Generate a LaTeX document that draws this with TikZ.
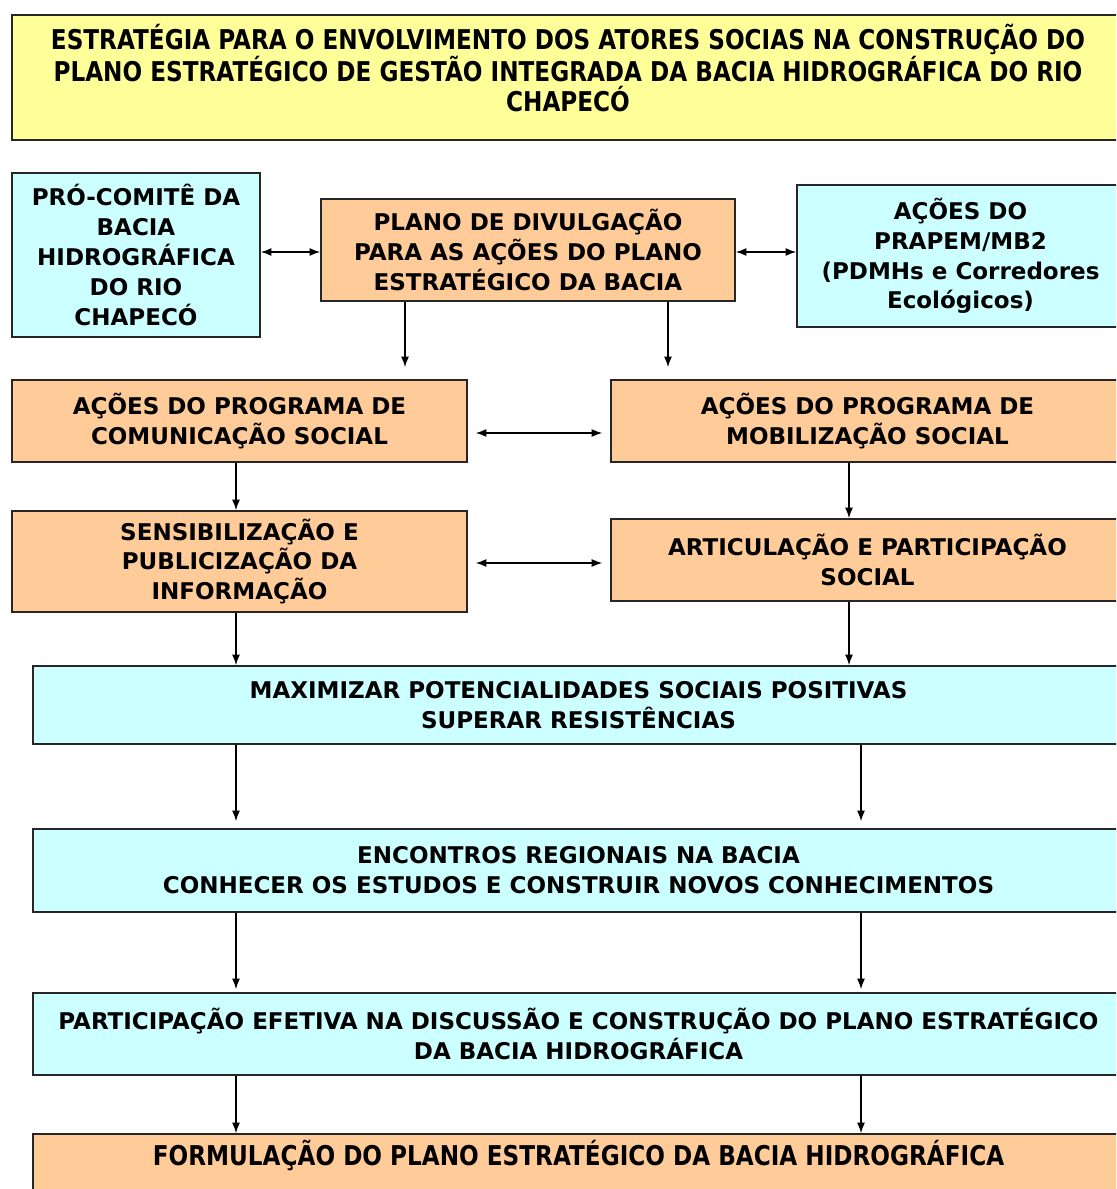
\documentclass[tikz,border=0pt]{standalone}
\usepackage{fontspec}
\usetikzlibrary{arrows.meta}
\setmainfont{DejaVu Sans}
\newfontfamily\titlefont[FakeStretch=0.85]{DejaVu Sans}
\definecolor{amarelo}{HTML}{FFFF99}
\definecolor{azul}{HTML}{CCFFFF}
\definecolor{laranja}{HTML}{FFCC99}
\begin{document}
\begin{tikzpicture}[x=0.02cm, y=-0.02cm]
	\tikzset{bx/.style={rectangle, draw=black!85, line width=0.9pt, align=center, inner sep=0pt, font=\bfseries\fontsize{13.1}{17}\selectfont}};
	\tikzset{az/.style={bx, fill=azul}, lj/.style={bx, fill=laranja}};
	\tikzset{arr/.style={-{Latex[length=6pt,width=4.5pt]}, line width=0.8pt}, arr2/.style={{Latex[length=6pt,width=4.5pt]}-{Latex[length=6pt,width=4.5pt]}, line width=0.8pt}};
	\useasboundingbox (0,0) rectangle (1116,1189);
	\clip (0,0) rectangle (1116,1189);

	\node[bx, fill=amarelo, minimum width=22.24cm, minimum height=2.5cm, text depth=0.4cm, font=\titlefont\bfseries\fontsize{15.5}{17}\selectfont] (titulo) at (568,77.5) {ESTRATÉGIA PARA O ENVOLVIMENTO DOS ATORES SOCIAS NA CONSTRUÇÃO DO\\PLANO ESTRATÉGICO DE GESTÃO INTEGRADA DA BACIA HIDROGRÁFICA DO RIO\\CHAPECÓ};

	\node[az, minimum width=4.96cm, minimum height=3.28cm] (pro) at (136,255) {PRÓ-COMITÊ DA\\BACIA\\HIDROGRÁFICA\\DO RIO\\CHAPECÓ};
	\node[lj, minimum width=8.28cm, minimum height=2.04cm] (plano) at (528,250) {PLANO DE DIVULGAÇÃO\\PARA AS AÇÕES DO PLANO\\ESTRATÉGICO DA BACIA};
	\node[az, minimum width=6.54cm, minimum height=2.84cm] (prapem) at (960.5,256) {AÇÕES DO\\PRAPEM/MB2\\(PDMHs e Corredores\\Ecológicos)};

	\node[lj, minimum width=9.1cm, minimum height=1.64cm] (com) at (239.5,421) {AÇÕES DO PROGRAMA DE\\COMUNICAÇÃO SOCIAL};
	\node[lj, minimum width=10.26cm, minimum height=1.64cm] (mob) at (867.5,421) {AÇÕES DO PROGRAMA DE\\MOBILIZAÇÃO SOCIAL};

	\node[lj, minimum width=9.1cm, minimum height=2.02cm] (sens) at (239.5,561.5) {SENSIBILIZAÇÃO E\\PUBLICIZAÇÃO DA\\INFORMAÇÃO};
	\node[lj, minimum width=10.26cm, minimum height=1.64cm] (art) at (867.5,560) {ARTICULAÇÃO E PARTICIPAÇÃO\\SOCIAL};

	\node[az, minimum width=21.82cm, minimum height=1.56cm] (max) at (578.5,705) {MAXIMIZAR POTENCIALIDADES SOCIAIS POSITIVAS\\SUPERAR RESISTÊNCIAS};
	\node[az, minimum width=21.82cm, minimum height=1.66cm] (enc) at (578.5,870.5) {ENCONTROS REGIONAIS NA BACIA\\CONHECER OS ESTUDOS E CONSTRUIR NOVOS CONHECIMENTOS};
	\node[az, minimum width=21.82cm, minimum height=1.64cm] (part) at (578.5,1034) {PARTICIPAÇÃO EFETIVA NA DISCUSSÃO E CONSTRUÇÃO DO PLANO ESTRATÉGICO\\DA BACIA HIDROGRÁFICA};
	\node[lj, minimum width=21.82cm, minimum height=1.64cm, text depth=0.3cm, font=\titlefont\bfseries\fontsize{15.5}{17}\selectfont] (form) at (578.5,1175) {FORMULAÇÃO DO PLANO ESTRATÉGICO DA BACIA HIDROGRÁFICA\\~};

	\draw[arr2] (pro.east |- 0,252) -- (plano.west |- 0,252);
	\draw[arr2] (plano.east |- 0,252) -- (prapem.west |- 0,252);

	\draw[arr, shorten >=0.24cm] (plano.south -| 405,0) -- (com.north -| 405,0);
	\draw[arr, shorten >=0.24cm] (plano.south -| 668,0) -- (mob.north -| 668,0);

	\draw[arr2, shorten <=0.16cm, shorten >=0.16cm] (com.east |- 0,433) -- (mob.west |- 0,433);
	\draw[arr2, shorten <=0.16cm, shorten >=0.16cm] (sens.east |- 0,563) -- (art.west |- 0,563);

	\draw[arr] (com.south -| 236,0) -- (sens.north -| 236,0);
	\draw[arr] (mob.south -| 849,0) -- (art.north -| 849,0);

	\draw[arr] (sens.south -| 236,0) -- (max.north -| 236,0);
	\draw[arr] (art.south -| 849,0) -- (max.north -| 849,0);

	\draw[arr, shorten >=0.14cm] (max.south -| 236,0) -- (enc.north -| 236,0);
	\draw[arr, shorten >=0.14cm] (max.south -| 861,0) -- (enc.north -| 861,0);

	\draw[arr, shorten >=0.06cm] (enc.south -| 236,0) -- (part.north -| 236,0);
	\draw[arr, shorten >=0.06cm] (enc.south -| 861,0) -- (part.north -| 861,0);

	\draw[arr] (part.south -| 236,0) -- (form.north -| 236,0);
	\draw[arr] (part.south -| 861,0) -- (form.north -| 861,0);


\end{tikzpicture}
\end{document}
